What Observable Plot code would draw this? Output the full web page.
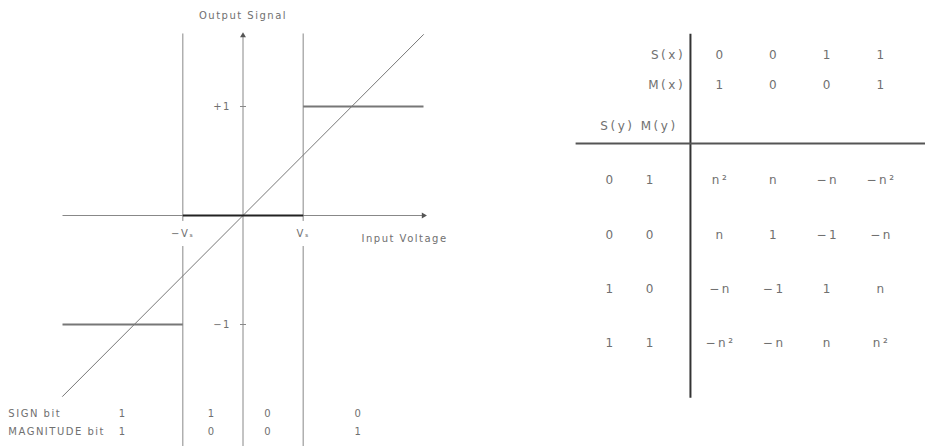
<!DOCTYPE html>
<html><head><meta charset="utf-8">
<script src="https://cdn.jsdelivr.net/npm/d3@7"></script>
<script src="https://cdn.jsdelivr.net/npm/@observablehq/plot@0.6"></script>
<style>
body{margin:0;background:#fff;}
#wrap{display:flex;width:925px;height:446px;}
svg{font-family:"DejaVu Sans",sans-serif;}
.lft text{letter-spacing:1.5px;}
.rgt text{letter-spacing:2.5px;}
</style></head><body><div id="wrap"></div>
<script>
// ---- Left diagram: transfer characteristic (Vs = 1 unit) ----
const xRange = [-3, 3];
const yTop = 1.67, yBottom = -2.12;
const steps = [
  {x1: -3, x2: -1, y: -1, color: "#777"},
  {x1: -1, x2: 1, y: 0, color: "#222"},
  {x1: 1, x2: 3, y: 1, color: "#777"}
];
const diagonal = [{x: -3, y: -1.66}, {x: 3, y: 1.66}];
const thresholds = [-1, 1];
const thresholdLabels = ["−Vₛ", "Vₛ"];
const yTicks = [1, -1];
const yTickLabels = ["+1", "−1"];
const bitColumns = [-2.0, -0.52, 0.42, 1.92];
const signBits = ["1", "1", "0", "0"];
const magnitudeBits = ["1", "0", "0", "1"];
const rowLabels = ["SIGN bit", "MAGNITUDE bit"];
const rowY = [-1.82, -1.98];

// ---- Right table ----
const headerSx = ["0", "0", "1", "1"];
const headerMx = ["1", "0", "0", "1"];
const rowSy = ["0", "0", "1", "1"];
const rowMy = ["1", "0", "0", "1"];
const products = [
  ["n²", "n", "−n", "−n²"],
  ["n", "1", "−1", "−n"],
  ["−n", "−1", "1", "n"],
  ["−n²", "−n", "n", "n²"]
];

const txt = "#707070";
const left = Plot.plot({
  width: 460, height: 446, margin: 0, className: "lft",
  x: {domain: [-3, 3], range: [62, 423], axis: null},
  y: {domain: [-1, 1], range: [324, 106], axis: null},
  marks: [
    // axes
    Plot.link([0], {x1: xRange[0], x2: xRange[1], y1: 0, y2: 0, stroke: "#888", strokeWidth: 1}),
    Plot.link([0], {x1: 0, x2: 0, y1: yBottom, y2: 1.65, stroke: "#888", strokeWidth: 1}),
    Plot.dot([0], {x: xRange[1], y: 0, symbol: "triangle", r: 2.2, fill: "#555", stroke: "none", rotate: 90}),
    Plot.dot([0], {x: 0, y: 1.65, symbol: "triangle", r: 2.2, fill: "#555", stroke: "none"}),
    // threshold verticals (broken around labels)
    Plot.link(thresholds, {x1: d => d, x2: d => d, y1: yTop, y2: -0.05, stroke: "#888", strokeWidth: 1}),
    Plot.link(thresholds, {x1: d => d, x2: d => d, y1: -0.28, y2: yBottom, stroke: "#888", strokeWidth: 1}),
    // ticks on y axis
    Plot.link(yTicks, {x1: -0.05, x2: 0.05, y1: d => d, y2: d => d, stroke: "#888"}),
    // diagonal
    Plot.line(diagonal, {x: "x", y: "y", stroke: "#777", strokeWidth: 1}),
    // step function
    Plot.link(steps, {x1: "x1", x2: "x2", y1: "y", y2: "y", stroke: "color", strokeWidth: 2}),
    // labels
    Plot.text(["Output Signal"], {x: 0, y: 1.83, text: d => d, fill: txt, fontSize: 10}),
    Plot.text(["Input Voltage"], {x: 1.97, y: -0.21, text: d => d, textAnchor: "start", fill: txt, fontSize: 10}),
    Plot.text(yTicks, {x: -0.2, y: d => d, text: (d, i) => yTickLabels[i], textAnchor: "end", fill: txt, fontSize: 10}),
    Plot.text(thresholds, {x: d => d, y: -0.17, text: (d, i) => thresholdLabels[i], fill: txt, fontSize: 10}),
    Plot.text(rowLabels, {x: -3.9, y: (d, i) => rowY[i], text: d => d, textAnchor: "start", fill: txt, fontSize: 10}),
    Plot.text(signBits, {x: (d, i) => bitColumns[i], y: rowY[0], text: d => d, fill: txt, fontSize: 10}),
    Plot.text(magnitudeBits, {x: (d, i) => bitColumns[i], y: rowY[1], text: d => d, fill: txt, fontSize: 10})
  ]
});

const cells = products.flatMap((row, r) => row.map((v, c) => ({r, c, v})));
const right = Plot.plot({
  width: 465, height: 446, margin: 0, className: "rgt",
  x: {domain: [0, 3], range: [260, 421], axis: null},
  y: {domain: [0, 3], range: [180, 343], axis: null},
  marks: [
    Plot.link([0], {x1: -0.56, x2: -0.56, y1: -2.7, y2: 4.0, stroke: "#333", strokeWidth: 2}),
    Plot.link([0], {x1: -2.7, x2: 3.9, y1: -0.68, y2: -0.68, stroke: "#555", strokeWidth: 2}),
    Plot.text(["S(x)"], {x: -0.66, y: -2.3, text: d => d, textAnchor: "end", fill: txt, fontSize: 12}),
    Plot.text(["M(x)"], {x: -0.66, y: -1.75, text: d => d, textAnchor: "end", fill: txt, fontSize: 12}),
    Plot.text(["S(y) M(y)"], {x: -0.8, y: -1.0, text: d => d, textAnchor: "end", fill: txt, fontSize: 12}),
    Plot.text(headerSx, {x: (d, i) => i, y: -2.3, text: d => d, fill: txt, fontSize: 12}),
    Plot.text(headerMx, {x: (d, i) => i, y: -1.75, text: d => d, fill: txt, fontSize: 12}),
    Plot.text(rowSy, {x: -2.05, y: (d, i) => i, text: d => d, fill: txt, fontSize: 12}),
    Plot.text(rowMy, {x: -1.3, y: (d, i) => i, text: d => d, fill: txt, fontSize: 12}),
    Plot.text(cells, {x: "c", y: "r", text: "v", fill: txt, fontSize: 12})
  ]
});

document.getElementById("wrap").append(left, right);
</script></body></html>
